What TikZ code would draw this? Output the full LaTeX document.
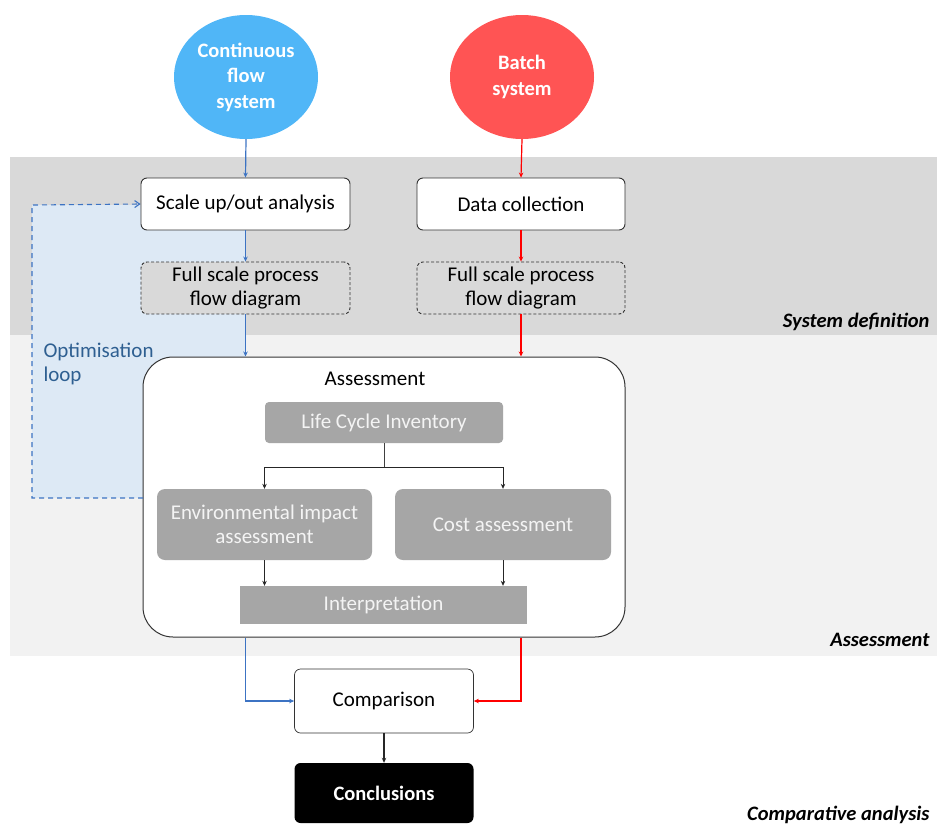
\documentclass[tikz,border=0pt]{standalone}
\usepackage{fontspec}
\setmainfont{Carlito}
\usetikzlibrary{arrows.meta,shapes.geometric}
\definecolor{bandA}{RGB}{217,217,217}
\definecolor{bandB}{RGB}{242,242,242}
\definecolor{loopfill}{RGB}{221,233,245}
\definecolor{cblue}{RGB}{80,182,247}
\definecolor{cred}{RGB}{255,84,84}
\definecolor{lblue}{RGB}{60,115,195}
\definecolor{lred}{RGB}{255,0,0}
\definecolor{gbox}{RGB}{166,166,166}
\definecolor{gtext}{RGB}{244,244,244}
\definecolor{looptext}{RGB}{46,95,145}
\begin{document}
\begin{tikzpicture}[x=1pt,y=-1pt,
  txt/.style={font=\fontsize{21}{24.5}\selectfont},
  sysnode/.style={ellipse,minimum width=144pt,minimum height=124pt,inner sep=0pt,align=center,text=white,font=\fontsize{20.5}{25.5}\selectfont\bfseries},
  wbox/.style={draw=black!80,line width=0.9pt,fill=white,rounded corners=6pt,align=center,inner sep=0pt,txt},
  dbox/.style={draw=black!80,line width=0.9pt,dashed,dash pattern=on 3pt off 2pt,fill=bandA,rounded corners=6pt,align=center,inner sep=0pt,txt},
  gbx/.style={fill=gbox,text=gtext,align=center,inner sep=0pt,txt},
  side/.style={anchor=east,font=\fontsize{20.5}{24}\selectfont\bfseries\itshape},
  barrow/.style={draw=lblue,line width=1.2pt,-{Stealth[length=5pt,width=4.5pt]}},
  rarrow/.style={draw=lred,line width=1.2pt,-{Stealth[length=5pt,width=4.5pt]}},
  karrow/.style={draw=black!85,line width=0.7pt,-{Stealth[length=5pt,width=4.5pt]}},
  kline/.style={draw=black!75,line width=0.7pt},
]
\useasboundingbox (0,0) rectangle (937,825);
% bands
\fill[bandA] (10,157) rectangle (937,335);
\fill[bandB] (10,335) rectangle (937,656);
% loop fill
\fill[loopfill] (32,205) rectangle (245,498);

% nodes
\node[sysnode,fill=cblue] (cont) at (246,77) {Continuous\\flow\\system};
\node[sysnode,fill=cred] (batch) at (522,77) {Batch\\system};

\node[wbox,minimum width=209pt,minimum height=52pt] (scale) at (245.5,204) {Scale up/out analysis};
\node[wbox,minimum width=208pt,minimum height=52pt] (dc) at (521,204) {Data collection};
\node[dbox,minimum width=209pt,minimum height=52pt] (fsl) at (245.5,288) {Full scale process\\flow diagram};
\node[dbox,minimum width=208pt,minimum height=52pt] (fsr) at (521,288) {Full scale process\\flow diagram};

\node[draw=black!80,line width=1pt,fill=white,rounded corners=30pt,minimum width=482pt,minimum height=280pt,inner sep=0pt] (assess) at (384,497) {};
\node[txt] (atitle) at (375,379) {Assessment};
\node[gbx,rounded corners=4pt,minimum width=238pt,minimum height=41pt] (lci) at (384,422.5) {Life Cycle Inventory};
\node[gbx,rounded corners=8pt,minimum width=215pt,minimum height=71pt] (env) at (264.5,524.5) {Environmental impact\\assessment};
\node[gbx,rounded corners=8pt,minimum width=216pt,minimum height=71pt] (cost) at (503,524.5) {Cost assessment};
\node[gbx,minimum width=287pt,minimum height=38pt] (interp) at (383.5,605) {Interpretation};

\node[wbox,minimum width=179pt,minimum height=64pt,line width=0.7pt] (comp) at (384,701) {Comparison};
\node[fill=black,text=white,rounded corners=6pt,minimum width=179pt,minimum height=60pt,inner sep=0pt,font=\fontsize{20.5}{24}\selectfont\bfseries] (concl) at (384,793) {Conclusions};

% side labels
\node[side] (lsys) at (933,322) {System definition};
\node[side] (lass) at (933,640) {Assessment};
\node[side] (lcmp) at (933,815) {Comparative analysis};
\node[anchor=west,align=left,text=looptext,txt] (loop) at (40,364) {Optimisation\\loop};

% connectors
\draw[barrow] (cont.south) -- (scale.north);
\draw[barrow] (scale.south) -- (fsl.north);
\draw[barrow] (fsl.south) -- (fsl.south |- assess.north);
\draw[rarrow] (batch.south) -- (dc.north);
\draw[rarrow] (dc.south) -- (fsr.north);
\draw[rarrow] (fsr.south) -- (fsr.south |- assess.north);

\coordinate (ljoin) at (384,467);
\draw[kline] (lci.south) -- (ljoin);
\draw[karrow] (ljoin) -| (env.north);
\draw[karrow] (ljoin) -| (cost.north);
\draw[karrow] (env.south) -- (env.south |- interp.north);
\draw[karrow] (cost.south) -- (cost.south |- interp.north);

\draw[barrow] (fsl.south |- assess.south) |- (comp.west);
\draw[rarrow] (fsr.south |- assess.south) |- (comp.east);
\draw[karrow,line width=1.2pt] (comp.south) -- (concl.north);

% optimisation loop
\coordinate (loopend) at (143,498);
\draw[lblue,line width=1.1pt,dash pattern=on 5pt off 4pt,-{Straight Barb[length=5pt,width=7pt]}] (loopend) -- (32,498) -- (32,205) -- (scale.west);
\end{tikzpicture}
\end{document}
